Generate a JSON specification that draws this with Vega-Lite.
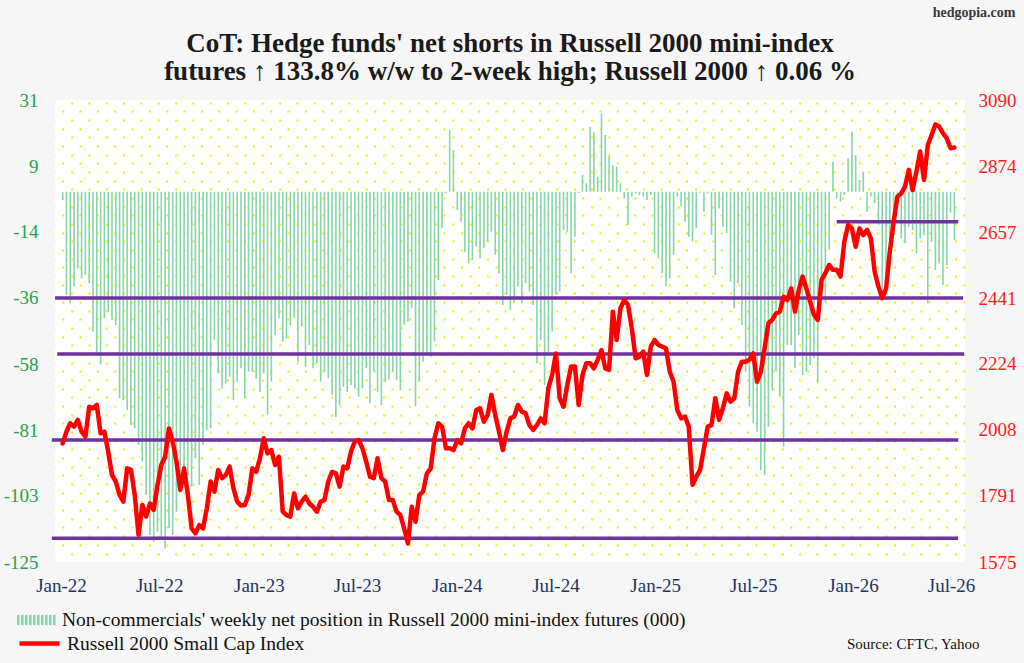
{
  "$schema": "https://vega.github.io/schema/vega-lite/v6.json",
  "width": 910,
  "height": 462,
  "autosize": {"type": "none"},
  "padding": {"left": 55, "top": 100, "right": 59, "bottom": 101},
  "background": "#f6f6f7",
  "view": {"fill": "#ffffff", "stroke": null},
  "config": {
    "font": "Liberation Serif",
    "axis": {"labelFont": "Liberation Serif", "titleFont": "Liberation Serif"},
    "legend": {"labelFont": "Liberation Serif"}
  },
  "title": {
    "text": ["CoT: Hedge funds' net shorts in Russell 2000 mini-index", "futures ↑ 133.8% w/w to 2-week high; Russell 2000 ↑ 0.06 %"],
    "font": "Liberation Serif",
    "fontSize": 27,
    "fontWeight": "bold",
    "color": "#1a1a1a",
    "lineHeight": 28,
    "anchor": "middle",
    "frame": "group",
    "offset": -81
  },
  "data": {
    "values": [
      {"date": "2022-01-04", "net": -2.8, "r2k": 1964},
      {"date": "2022-01-11", "net": -34.8, "r2k": 2002},
      {"date": "2022-01-18", "net": -37.7, "r2k": 2030},
      {"date": "2022-01-25", "net": -32.0, "r2k": 2019},
      {"date": "2022-02-01", "net": -25.8, "r2k": 2041},
      {"date": "2022-02-08", "net": -29.2, "r2k": 2002},
      {"date": "2022-02-15", "net": -28.1, "r2k": 1986},
      {"date": "2022-02-22", "net": -30.9, "r2k": 2084},
      {"date": "2022-03-01", "net": -47.2, "r2k": 2079},
      {"date": "2022-03-08", "net": -55.1, "r2k": 2090},
      {"date": "2022-03-15", "net": -58.3, "r2k": 1997},
      {"date": "2022-03-22", "net": -42.7, "r2k": 2002},
      {"date": "2022-03-29", "net": -40.5, "r2k": 1937},
      {"date": "2022-04-05", "net": -43.3, "r2k": 1860},
      {"date": "2022-04-12", "net": -45.0, "r2k": 1839},
      {"date": "2022-04-19", "net": -69.7, "r2k": 1795},
      {"date": "2022-04-26", "net": -70.3, "r2k": 1773},
      {"date": "2022-05-03", "net": -73.7, "r2k": 1882},
      {"date": "2022-05-10", "net": -78.7, "r2k": 1877},
      {"date": "2022-05-17", "net": -79.9, "r2k": 1795},
      {"date": "2022-05-24", "net": -85.5, "r2k": 1664},
      {"date": "2022-05-31", "net": -91.1, "r2k": 1762},
      {"date": "2022-06-07", "net": -102.4, "r2k": 1724},
      {"date": "2022-06-14", "net": -115.9, "r2k": 1767},
      {"date": "2022-06-21", "net": -118.1, "r2k": 1746},
      {"date": "2022-06-28", "net": -114.8, "r2k": 1828},
      {"date": "2022-07-05", "net": -117.0, "r2k": 1893},
      {"date": "2022-07-12", "net": -120.4, "r2k": 1920},
      {"date": "2022-07-19", "net": -113.6, "r2k": 2013},
      {"date": "2022-07-26", "net": -115.9, "r2k": 1970},
      {"date": "2022-08-02", "net": -108.0, "r2k": 1904},
      {"date": "2022-08-09", "net": -96.8, "r2k": 1811},
      {"date": "2022-08-16", "net": -100.1, "r2k": 1882},
      {"date": "2022-08-23", "net": -95.6, "r2k": 1795},
      {"date": "2022-08-30", "net": -99.6, "r2k": 1685},
      {"date": "2022-09-06", "net": -90.0, "r2k": 1669},
      {"date": "2022-09-13", "net": -99.0, "r2k": 1696},
      {"date": "2022-09-20", "net": -85.5, "r2k": 1685},
      {"date": "2022-09-27", "net": -80.4, "r2k": 1751},
      {"date": "2022-10-04", "net": -79.9, "r2k": 1839},
      {"date": "2022-10-11", "net": -50.0, "r2k": 1806},
      {"date": "2022-10-18", "net": -61.3, "r2k": 1877},
      {"date": "2022-10-25", "net": -66.4, "r2k": 1850},
      {"date": "2022-11-01", "net": -64.7, "r2k": 1860},
      {"date": "2022-11-08", "net": -62.4, "r2k": 1888},
      {"date": "2022-11-15", "net": -70.3, "r2k": 1817},
      {"date": "2022-11-22", "net": -64.1, "r2k": 1773},
      {"date": "2022-11-29", "net": -59.6, "r2k": 1760},
      {"date": "2022-12-06", "net": -69.7, "r2k": 1762},
      {"date": "2022-12-13", "net": -60.7, "r2k": 1795},
      {"date": "2022-12-20", "net": -60.7, "r2k": 1882},
      {"date": "2022-12-27", "net": -63.0, "r2k": 1871},
      {"date": "2023-01-03", "net": -67.5, "r2k": 1915},
      {"date": "2023-01-10", "net": -61.3, "r2k": 1981},
      {"date": "2023-01-17", "net": -75.4, "r2k": 1931},
      {"date": "2023-01-24", "net": -64.1, "r2k": 1942},
      {"date": "2023-01-31", "net": -48.4, "r2k": 1893},
      {"date": "2023-02-07", "net": -42.7, "r2k": 1920},
      {"date": "2023-02-14", "net": -50.6, "r2k": 1740},
      {"date": "2023-02-21", "net": -49.5, "r2k": 1729},
      {"date": "2023-02-28", "net": -45.0, "r2k": 1724},
      {"date": "2023-03-07", "net": -42.7, "r2k": 1800},
      {"date": "2023-03-14", "net": -57.4, "r2k": 1751},
      {"date": "2023-03-21", "net": -45.5, "r2k": 1773},
      {"date": "2023-03-28", "net": -59.1, "r2k": 1789},
      {"date": "2023-04-04", "net": -51.7, "r2k": 1767},
      {"date": "2023-04-11", "net": -59.6, "r2k": 1756},
      {"date": "2023-04-18", "net": -57.9, "r2k": 1740},
      {"date": "2023-04-25", "net": -64.1, "r2k": 1773},
      {"date": "2023-05-02", "net": -60.7, "r2k": 1778},
      {"date": "2023-05-09", "net": -63.0, "r2k": 1839},
      {"date": "2023-05-16", "net": -68.6, "r2k": 1871},
      {"date": "2023-05-23", "net": -76.0, "r2k": 1866},
      {"date": "2023-05-30", "net": -72.0, "r2k": 1822},
      {"date": "2023-06-06", "net": -65.8, "r2k": 1888},
      {"date": "2023-06-13", "net": -67.5, "r2k": 1882},
      {"date": "2023-06-20", "net": -65.2, "r2k": 1937},
      {"date": "2023-06-27", "net": -66.4, "r2k": 1970},
      {"date": "2023-07-04", "net": -69.2, "r2k": 1975},
      {"date": "2023-07-11", "net": -66.4, "r2k": 1948},
      {"date": "2023-07-18", "net": -59.6, "r2k": 1904},
      {"date": "2023-07-25", "net": -71.4, "r2k": 1855},
      {"date": "2023-08-01", "net": -60.7, "r2k": 1850},
      {"date": "2023-08-08", "net": -67.5, "r2k": 1915},
      {"date": "2023-08-15", "net": -72.0, "r2k": 1850},
      {"date": "2023-08-22", "net": -64.1, "r2k": 1839},
      {"date": "2023-08-29", "net": -63.5, "r2k": 1778},
      {"date": "2023-09-05", "net": -60.7, "r2k": 1778},
      {"date": "2023-09-12", "net": -63.5, "r2k": 1740},
      {"date": "2023-09-19", "net": -67.0, "r2k": 1729},
      {"date": "2023-09-26", "net": -45.0, "r2k": 1685},
      {"date": "2023-10-03", "net": -43.8, "r2k": 1636},
      {"date": "2023-10-10", "net": -39.3, "r2k": 1756},
      {"date": "2023-10-17", "net": -72.5, "r2k": 1707},
      {"date": "2023-10-24", "net": -64.1, "r2k": 1795},
      {"date": "2023-10-31", "net": -57.4, "r2k": 1806},
      {"date": "2023-11-07", "net": -55.1, "r2k": 1866},
      {"date": "2023-11-14", "net": -55.7, "r2k": 1882},
      {"date": "2023-11-21", "net": -50.6, "r2k": 1981},
      {"date": "2023-11-28", "net": -29.8, "r2k": 2030},
      {"date": "2023-12-05", "net": -12.3, "r2k": 2019},
      {"date": "2023-12-12", "net": -0.5, "r2k": 1948},
      {"date": "2023-12-19", "net": 20.9, "r2k": 1948},
      {"date": "2023-12-26", "net": 14.1, "r2k": 1942},
      {"date": "2024-01-02", "net": -6.1, "r2k": 1975},
      {"date": "2024-01-09", "net": -10.1, "r2k": 1964},
      {"date": "2024-01-16", "net": -20.2, "r2k": 2013},
      {"date": "2024-01-23", "net": -24.2, "r2k": 2030},
      {"date": "2024-01-30", "net": -23.0, "r2k": 2013},
      {"date": "2024-02-06", "net": -18.5, "r2k": 2073},
      {"date": "2024-02-13", "net": -22.5, "r2k": 2079},
      {"date": "2024-02-20", "net": -19.1, "r2k": 2035},
      {"date": "2024-02-27", "net": -16.8, "r2k": 2057},
      {"date": "2024-03-05", "net": -13.5, "r2k": 2123},
      {"date": "2024-03-12", "net": -21.3, "r2k": 2057},
      {"date": "2024-03-19", "net": -27.5, "r2k": 2002},
      {"date": "2024-03-26", "net": -38.2, "r2k": 1942},
      {"date": "2024-04-02", "net": -34.8, "r2k": 2002},
      {"date": "2024-04-09", "net": -39.9, "r2k": 2046},
      {"date": "2024-04-16", "net": -37.1, "r2k": 2052},
      {"date": "2024-04-23", "net": -32.0, "r2k": 2090},
      {"date": "2024-04-30", "net": -37.7, "r2k": 2068},
      {"date": "2024-05-07", "net": -30.9, "r2k": 2063},
      {"date": "2024-05-14", "net": -33.7, "r2k": 2024},
      {"date": "2024-05-21", "net": -38.2, "r2k": 2008},
      {"date": "2024-05-28", "net": -57.9, "r2k": 2024},
      {"date": "2024-06-04", "net": -50.0, "r2k": 2046},
      {"date": "2024-06-11", "net": -65.2, "r2k": 2030},
      {"date": "2024-06-18", "net": -54.0, "r2k": 2145},
      {"date": "2024-06-25", "net": -47.2, "r2k": 2188},
      {"date": "2024-07-02", "net": -34.8, "r2k": 2259},
      {"date": "2024-07-09", "net": -33.7, "r2k": 2112},
      {"date": "2024-07-16", "net": -12.9, "r2k": 2084},
      {"date": "2024-07-23", "net": -13.5, "r2k": 2156},
      {"date": "2024-07-30", "net": -27.5, "r2k": 2216},
      {"date": "2024-08-06", "net": -15.2, "r2k": 2216},
      {"date": "2024-08-13", "net": -0.5, "r2k": 2090},
      {"date": "2024-08-20", "net": 5.7, "r2k": 2188},
      {"date": "2024-08-27", "net": 2.9, "r2k": 2227},
      {"date": "2024-09-03", "net": 22.0, "r2k": 2227},
      {"date": "2024-09-10", "net": 20.3, "r2k": 2210},
      {"date": "2024-09-17", "net": 5.1, "r2k": 2238},
      {"date": "2024-09-24", "net": 26.5, "r2k": 2270},
      {"date": "2024-10-01", "net": 19.2, "r2k": 2210},
      {"date": "2024-10-08", "net": 11.9, "r2k": 2205},
      {"date": "2024-10-15", "net": 9.0, "r2k": 2396},
      {"date": "2024-10-22", "net": 8.5, "r2k": 2303},
      {"date": "2024-10-29", "net": 2.9, "r2k": 2407},
      {"date": "2024-11-05", "net": -2.2, "r2k": 2434},
      {"date": "2024-11-12", "net": -11.2, "r2k": 2418},
      {"date": "2024-11-19", "net": -1.6, "r2k": 2341},
      {"date": "2024-11-26", "net": -0.5, "r2k": 2243},
      {"date": "2024-12-03", "net": -1.1, "r2k": 2248},
      {"date": "2024-12-10", "net": -1.6, "r2k": 2265},
      {"date": "2024-12-17", "net": -2.8, "r2k": 2188},
      {"date": "2024-12-24", "net": -1.1, "r2k": 2281},
      {"date": "2024-12-31", "net": -20.8, "r2k": 2303},
      {"date": "2025-01-07", "net": -22.5, "r2k": 2287},
      {"date": "2025-01-14", "net": -27.5, "r2k": 2281},
      {"date": "2025-01-21", "net": -32.0, "r2k": 2276},
      {"date": "2025-01-28", "net": -29.2, "r2k": 2199},
      {"date": "2025-02-04", "net": -21.3, "r2k": 2166},
      {"date": "2025-02-11", "net": -1.6, "r2k": 2073},
      {"date": "2025-02-18", "net": -5.0, "r2k": 2046},
      {"date": "2025-02-25", "net": -10.1, "r2k": 2052},
      {"date": "2025-03-04", "net": -15.2, "r2k": 2019},
      {"date": "2025-03-11", "net": -16.8, "r2k": 1828},
      {"date": "2025-03-18", "net": -12.3, "r2k": 1855},
      {"date": "2025-03-25", "net": -0.3, "r2k": 1877},
      {"date": "2025-04-01", "net": -6.7, "r2k": 1948},
      {"date": "2025-04-08", "net": -0.5, "r2k": 2019},
      {"date": "2025-04-15", "net": -14.6, "r2k": 2024},
      {"date": "2025-04-22", "net": -28.1, "r2k": 2112},
      {"date": "2025-04-29", "net": -5.6, "r2k": 2041},
      {"date": "2025-05-06", "net": -11.8, "r2k": 2079},
      {"date": "2025-05-13", "net": -14.0, "r2k": 2128},
      {"date": "2025-05-20", "net": -30.3, "r2k": 2101},
      {"date": "2025-05-27", "net": -39.3, "r2k": 2112},
      {"date": "2025-06-03", "net": -30.9, "r2k": 2199},
      {"date": "2025-06-10", "net": -45.0, "r2k": 2232},
      {"date": "2025-06-17", "net": -60.7, "r2k": 2232},
      {"date": "2025-06-24", "net": -72.5, "r2k": 2238},
      {"date": "2025-07-01", "net": -78.2, "r2k": 2259},
      {"date": "2025-07-08", "net": -81.0, "r2k": 2166},
      {"date": "2025-07-15", "net": -93.9, "r2k": 2199},
      {"date": "2025-07-22", "net": -95.6, "r2k": 2276},
      {"date": "2025-07-29", "net": -79.3, "r2k": 2358},
      {"date": "2025-08-05", "net": -67.0, "r2k": 2369},
      {"date": "2025-08-12", "net": -60.7, "r2k": 2390},
      {"date": "2025-08-19", "net": -69.2, "r2k": 2396},
      {"date": "2025-08-26", "net": -86.1, "r2k": 2445},
      {"date": "2025-09-02", "net": -51.7, "r2k": 2434},
      {"date": "2025-09-09", "net": -51.7, "r2k": 2472},
      {"date": "2025-09-16", "net": -59.6, "r2k": 2396},
      {"date": "2025-09-23", "net": -48.4, "r2k": 2467},
      {"date": "2025-09-30", "net": -61.9, "r2k": 2511},
      {"date": "2025-10-07", "net": -60.7, "r2k": 2472},
      {"date": "2025-10-14", "net": -58.5, "r2k": 2429},
      {"date": "2025-10-21", "net": -56.2, "r2k": 2385},
      {"date": "2025-10-28", "net": -64.7, "r2k": 2369},
      {"date": "2025-11-04", "net": -33.7, "r2k": 2500},
      {"date": "2025-11-11", "net": -37.1, "r2k": 2522},
      {"date": "2025-11-18", "net": -19.6, "r2k": 2549},
      {"date": "2025-11-25", "net": 10.2, "r2k": 2533},
      {"date": "2025-12-02", "net": -2.2, "r2k": 2533},
      {"date": "2025-12-09", "net": -3.3, "r2k": 2511},
      {"date": "2025-12-16", "net": -1.1, "r2k": 2625},
      {"date": "2025-12-23", "net": 11.3, "r2k": 2680},
      {"date": "2025-12-30", "net": 20.3, "r2k": 2669},
      {"date": "2026-01-06", "net": 12.4, "r2k": 2609},
      {"date": "2026-01-13", "net": 4.0, "r2k": 2669},
      {"date": "2026-01-20", "net": 6.8, "r2k": 2647},
      {"date": "2026-01-27", "net": -6.7, "r2k": 2664},
      {"date": "2026-02-03", "net": -1.6, "r2k": 2636},
      {"date": "2026-02-10", "net": -3.9, "r2k": 2527},
      {"date": "2026-02-17", "net": -11.2, "r2k": 2478},
      {"date": "2026-02-24", "net": -34.8, "r2k": 2440},
      {"date": "2026-03-03", "net": -32.6, "r2k": 2472},
      {"date": "2026-03-10", "net": -18.0, "r2k": 2593},
      {"date": "2026-03-17", "net": -10.1, "r2k": 2691},
      {"date": "2026-03-24", "net": -2.2, "r2k": 2773},
      {"date": "2026-03-31", "net": -15.7, "r2k": 2784},
      {"date": "2026-04-07", "net": -17.4, "r2k": 2806},
      {"date": "2026-04-14", "net": -11.8, "r2k": 2861},
      {"date": "2026-04-21", "net": -12.9, "r2k": 2795},
      {"date": "2026-04-28", "net": -20.8, "r2k": 2855},
      {"date": "2026-05-05", "net": -15.7, "r2k": 2921},
      {"date": "2026-05-12", "net": -14.6, "r2k": 2828},
      {"date": "2026-05-19", "net": -37.7, "r2k": 2942},
      {"date": "2026-05-26", "net": -16.8, "r2k": 2975},
      {"date": "2026-06-02", "net": -26.4, "r2k": 3010},
      {"date": "2026-06-09", "net": -24.2, "r2k": 3003},
      {"date": "2026-06-16", "net": -31.5, "r2k": 2981},
      {"date": "2026-06-23", "net": -24.7, "r2k": 2964},
      {"date": "2026-06-30", "net": -7.0, "r2k": 2932},
      {"date": "2026-07-07", "net": -16.4, "r2k": 2934}
    ]
  },
  "layer": [
    {
      "data": {"values": [{"k": 0}]},
      "mark": {"type": "rule", "opacity": 0},
      "encoding": {
        "y": {
          "datum": 0,
          "type": "quantitative",
          "scale": {"domain": [-0.31, 52.98], "reverse": true, "nice": false, "zero": false},
          "axis": {
            "orient": "left",
            "values": [0,1,2,3,4,5,6,7,8,9,10,11,12,13,14,15,16,17,18,19,20,21,22,23,24,25,26,27,28,29,30,31,32,33,34,35,36,37,38,39,40,41,42,43,44,45,46,47,48,49,50,51,52,53],
            "labels": false,
            "ticks": false,
            "domain": false,
            "grid": true,
            "gridColor": "#f2ee00",
            "gridWidth": 2,
            "gridDash": [2, 15.33],
            "gridDashOffset": {"condition": {"test": "datum.value % 2 === 0", "value": 1.6}, "value": 10.6},
            "zindex": 0,
            "title": "hedgopia.com",
            "titleAngle": 0,
            "titleX": 960,
            "titleY": -88,
            "titleAlign": "right",
            "titleBaseline": "middle",
            "titleFontSize": 14,
            "titleFontWeight": "bold",
            "titleColor": "#3a3a3a"
          }
        }
      }
    },
    {
      "mark": {"type": "bar", "size": 1.6},
      "encoding": {
        "x": {
          "field": "date",
          "type": "temporal",
          "scale": {
            "type": "utc",
            "domain": [
              {"year": 2021, "month": 12, "date": 30, "hours": 3, "utc": true},
              {"year": 2026, "month": 7, "date": 17, "hours": 10, "utc": true}
            ]
          },
          "axis": {
            "values": [
              {"year": 2022, "month": 1, "date": 1, "utc": true},
              {"year": 2022, "month": 7, "date": 1, "utc": true},
              {"year": 2023, "month": 1, "date": 1, "utc": true},
              {"year": 2023, "month": 7, "date": 1, "utc": true},
              {"year": 2024, "month": 1, "date": 1, "utc": true},
              {"year": 2024, "month": 7, "date": 1, "utc": true},
              {"year": 2025, "month": 1, "date": 1, "utc": true},
              {"year": 2025, "month": 7, "date": 1, "utc": true},
              {"year": 2026, "month": 1, "date": 1, "utc": true},
              {"year": 2026, "month": 7, "date": 1, "utc": true}
            ],
            "format": "%b-%y",
            "labelFontSize": 19,
            "labelColor": "#1f3560",
            "labelPadding": 14,
            "labelFlush": false,
            "labelOverlap": false,
            "ticks": false,
            "domain": false,
            "grid": false,
            "title": "Source: CFTC, Yahoo",
            "titleAnchor": "end",
            "titleX": 924,
            "titleY": 81,
            "titleAlign": "right",
            "titleBaseline": "middle",
            "titleFontSize": 15,
            "titleFontWeight": "normal",
            "titleColor": "#111111"
          }
        },
        "y": {
          "field": "net",
          "type": "quantitative",
          "scale": {"domain": [-125, 31], "nice": false},
          "axis": {
            "orient": "left",
            "values": [-125, -102.714, -80.429, -58.143, -35.857, -13.571, 8.714, 31],
            "labelExpr": "['-125','-103','-81','-58','-36','-14','9','31'][round((datum.value + 125) / 22.2857)]",
            "labelFontSize": 19,
            "labelColor": "#1fa34f",
            "labelPadding": 17,
            "ticks": false,
            "domain": false,
            "grid": false,
            "title": null
          }
        },
        "y2": {"datum": 0},
        "color": {
          "datum": "Non-commercials' weekly net position in Russell 2000 mini-index futures (000)",
          "type": "nominal",
          "scale": {"range": ["#86d6a8"]},
          "legend": {
            "orient": "none",
            "legendX": -38,
            "legendY": 500,
            "title": null,
            "padding": 0,
            "symbolType": "M-1,-0.25h0.13v0.5h-0.13Z M-0.8,-0.25h0.13v0.5h-0.13Z M-0.6,-0.25h0.13v0.5h-0.13Z M-0.4,-0.25h0.13v0.5h-0.13Z M-0.2,-0.25h0.13v0.5h-0.13Z M0,-0.25h0.13v0.5h-0.13Z M0.2,-0.25h0.13v0.5h-0.13Z M0.4,-0.25h0.13v0.5h-0.13Z M0.6,-0.25h0.13v0.5h-0.13Z M0.8,-0.25h0.13v0.5h-0.13Z",
            "symbolSize": 1600,
            "symbolFillColor": "#3fc776",
            "symbolStrokeWidth": 0,
            "labelFontSize": 19.5,
            "labelColor": "#111111",
            "labelLimit": 1000,
            "labelOffset": 5
          }
        }
      }
    },
    {
      "data": {
        "values": [
          {"level": 2441, "start": "2021-12-21", "end": "2026-07-23"},
          {"level": 2257, "start": "2021-12-25", "end": "2026-07-25"},
          {"level": 1975, "start": "2021-12-15", "end": "2026-07-14"},
          {"level": 1653, "start": "2021-12-15", "end": "2026-07-14"},
          {"level": 2691, "start": "2025-12-02", "end": "2026-07-14"}
        ],
        "format": {"parse": {"start": "date", "end": "date"}}
      },
      "mark": {"type": "rule", "color": "#7030a0", "strokeWidth": 3.5},
      "encoding": {
        "x": {
          "field": "start",
          "type": "temporal",
          "scale": {
            "type": "utc",
            "domain": [
              {"year": 2021, "month": 12, "date": 30, "hours": 3, "utc": true},
              {"year": 2026, "month": 7, "date": 17, "hours": 10, "utc": true}
            ]
          }
        },
        "x2": {"field": "end"},
        "y": {
          "field": "level",
          "type": "quantitative",
          "scale": {"domain": [1575, 3090], "nice": false, "zero": false},
          "axis": null
        }
      }
    },
    {
      "mark": {"type": "line", "strokeWidth": 4.5, "strokeJoin": "round", "strokeCap": "round"},
      "encoding": {
        "x": {
          "field": "date",
          "type": "temporal",
          "scale": {
            "type": "utc",
            "domain": [
              {"year": 2021, "month": 12, "date": 30, "hours": 3, "utc": true},
              {"year": 2026, "month": 7, "date": 17, "hours": 10, "utc": true}
            ]
          }
        },
        "y": {
          "field": "r2k",
          "type": "quantitative",
          "scale": {"domain": [1575, 3090], "nice": false, "zero": false},
          "axis": {
            "orient": "right",
            "values": [1575, 1791.43, 2007.86, 2224.29, 2440.71, 2657.14, 2873.57, 3090],
            "format": ".0f",
            "labelFontSize": 19,
            "labelColor": "#ff1a1a",
            "labelPadding": 13,
            "ticks": false,
            "domain": false,
            "grid": false,
            "title": null
          }
        },
        "stroke": {
          "datum": "Russell 2000 Small Cap Index",
          "type": "nominal",
          "scale": {"range": ["#ff0000"]},
          "legend": {
            "orient": "none",
            "legendX": -38,
            "legendY": 521,
            "title": null,
            "padding": 0,
            "symbolType": "stroke",
            "symbolSize": 1600,
            "symbolStrokeWidth": 4.5,
            "symbolStrokeColor": "#ff0000",
            "labelFontSize": 19.5,
            "labelColor": "#111111",
            "labelLimit": 1000,
            "labelOffset": 5
          }
        }
      }
    }
  ],
  "resolve": {"scale": {"y": "independent"}}
}
